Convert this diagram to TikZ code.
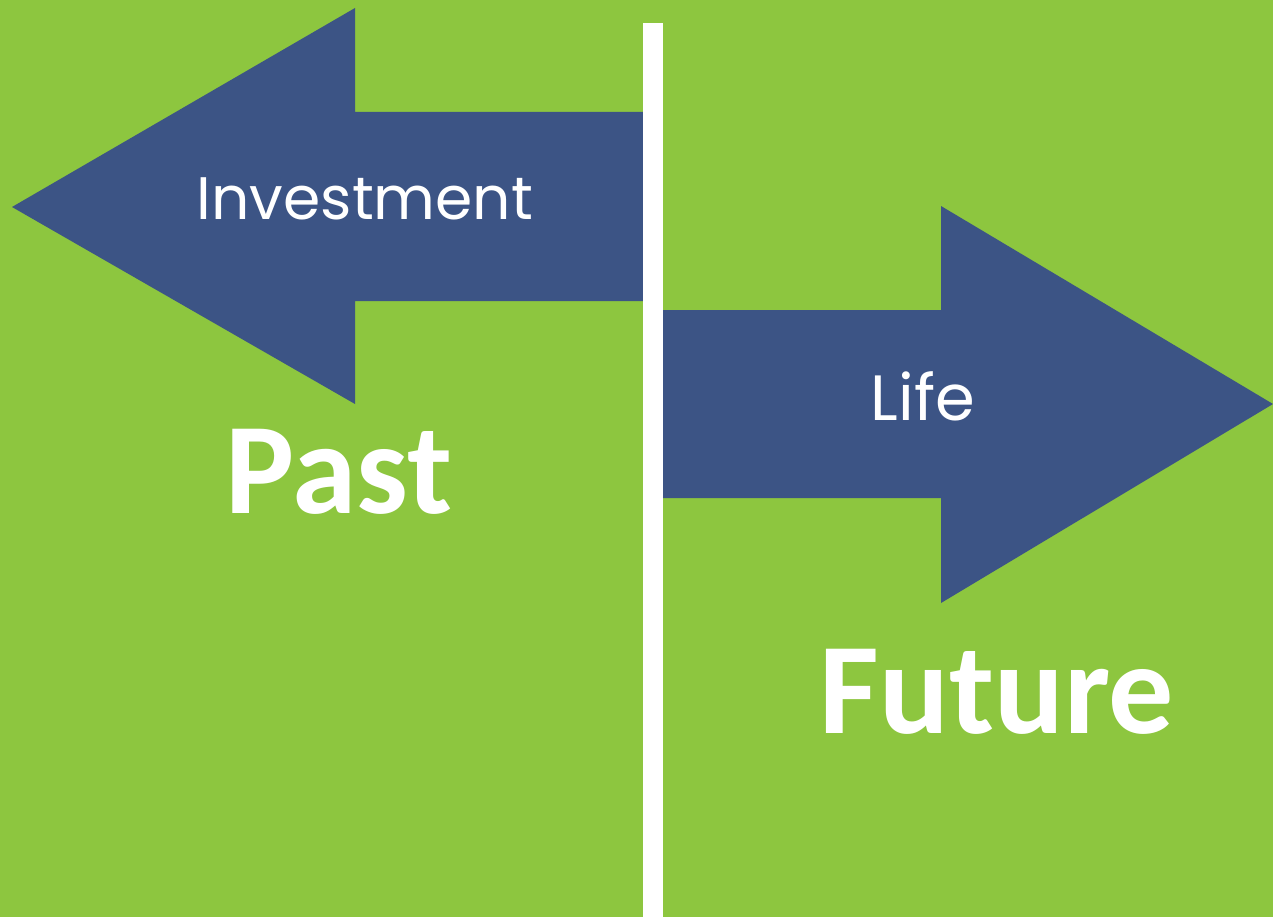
\documentclass[tikz,border=0pt]{standalone}
\usepackage{fontspec}
\setmainfont{Carlito}
\newfontfamily\geofont{Poppins}
\definecolor{bggreen}{HTML}{8DC63F}
\definecolor{arrowblue}{HTML}{3C5485}
\begin{document}
\begin{tikzpicture}[x=1pt,y=-1pt,
  arrowshape/.style={fill=arrowblue,draw=none},
  arrowlabel/.style={text=white,font=\geofont\fontsize{64}{64}\selectfont,anchor=base,inner sep=0pt},
  timelabel/.style={text=white,font=\bfseries\fontsize{130}{130}\selectfont,anchor=base,inner sep=0pt}]
  % background
  \fill[bggreen] (0,0) rectangle (1273,917);
  \useasboundingbox (0,0) rectangle (1273,917);
  % left arrow
  \fill[arrowshape] (12,207) -- (355,8) -- (355,112) -- (643,112) -- (643,301)
    -- (355,301) -- (355,404) -- cycle;
  % right arrow
  \fill[arrowshape] (663,310) -- (941,310) -- (941,206) -- (1273,404) -- (941,603)
    -- (941,498) -- (663,498) -- cycle;
  % divider
  \fill[white] (643,23) rectangle (663,917);
  % labels
  \node[arrowlabel,font=\geofont\fontsize{60}{60}\selectfont] (inv) at (365,220) {Investment};
  \node[arrowlabel] (life) at (923,420) {Life};
  \node[timelabel] (past) at (339,513) {Past};
  \node[timelabel] (future) at (997,733) {Future};
\end{tikzpicture}
\end{document}
